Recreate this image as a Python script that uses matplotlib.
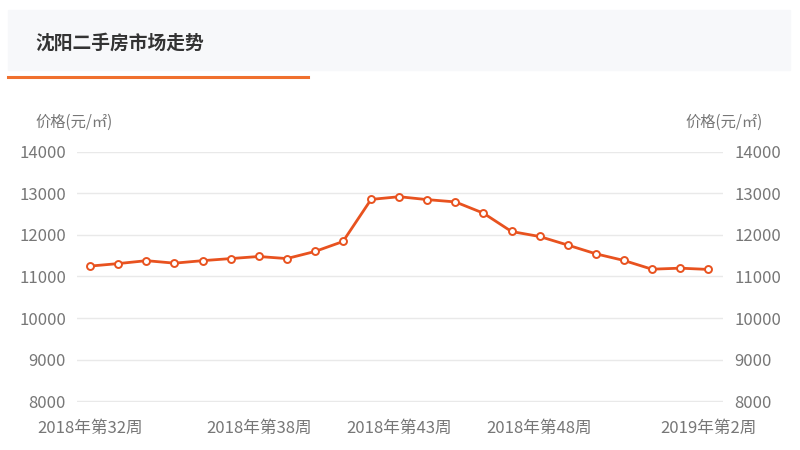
import matplotlib
matplotlib.use("Agg")
import matplotlib.pyplot as plt
from matplotlib.patches import Rectangle
from matplotlib.lines import Line2D

plt.rcParams['font.family'] = ['Noto Sans CJK SC', 'DejaVu Sans']

title = "沈阳二手房市场走势"
unit_label = "价格(元/㎡)"

weeks = ["2018年第%d周" % w for w in range(32, 53)] + ["2019年第1周", "2019年第2周"]
prices = [11250, 11310, 11380, 11320, 11380, 11430, 11480, 11430, 11600, 11840,
          12850, 12915, 12845, 12790, 12520, 12080, 11960, 11755, 11545, 11385,
          11175, 11200, 11170]
shown_weeks = ["2018年第32周", "2018年第38周", "2018年第43周", "2018年第48周", "2019年第2周"]
yticks = [8000, 9000, 10000, 11000, 12000, 13000, 14000]

line_color = "#e8521f"
text_color = "#777777"

fig = plt.figure(figsize=(8, 4.5), dpi=100)

# header band, title and orange underline
fig.patches.append(Rectangle((8 / 800, 1 - 70 / 450), 782 / 800, 60 / 450,
                             transform=fig.transFigure, color="#f7f8fa", zorder=0))
fig.lines.append(Line2D([8 / 800, 308 / 800], [1 - 76.5 / 450] * 2,
                        transform=fig.transFigure, color="#f0702e", lw=2.2))
fig.text(35 / 800, 1 - 43 / 450, title, fontsize=13.5, fontweight="bold",
         color="#333333", va="center", ha="left")

ax = fig.add_axes([77 / 800, 48.5 / 450, 646 / 800, 250 / 450])
x = list(range(len(weeks)))
ax.plot(x, prices, color=line_color, lw=2, marker="o", markersize=5,
        markerfacecolor="white", markeredgecolor=line_color, markeredgewidth=1.4,
        zorder=3)

ax.set_xlim(-0.47, len(weeks) - 0.47)
ax.set_ylim(8000, 14000)
ax.set_yticks(yticks)
ax.set_yticklabels([str(v) for v in yticks])
ax.set_xticks([weeks.index(w) for w in shown_weeks])
ax.set_xticklabels(shown_weeks)

ax.grid(axis="y", color="#e9e9e9", lw=1)
ax.set_axisbelow(True)
for s in ax.spines.values():
    s.set_visible(False)
ax.tick_params(axis="both", length=0, colors=text_color, labelsize=12)
ax.tick_params(axis="y", pad=8, labelright=True)
ax.tick_params(axis="x", pad=13)

fig.text(35 / 800, 1 - 122 / 450, unit_label, fontsize=11, color=text_color,
         ha="left", va="center")
fig.text(763 / 800, 1 - 122 / 450, unit_label, fontsize=11, color=text_color,
         ha="right", va="center")

fig.savefig("out.png", dpi=100)
